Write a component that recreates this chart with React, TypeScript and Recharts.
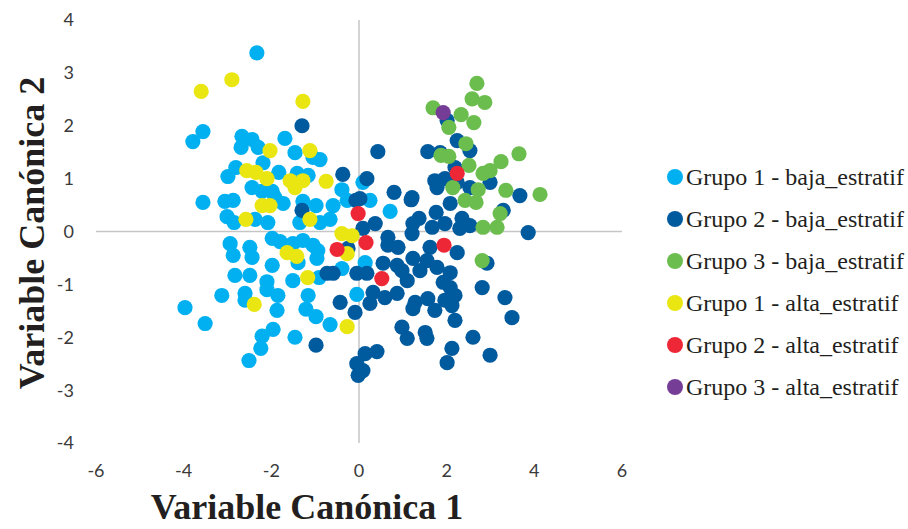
import {
  ScatterChart,
  Scatter,
  XAxis,
  YAxis,
  ReferenceLine,
  Legend,
  Label,
} from "recharts";

type Pt = [number, number];

const X_TICKS = [-6, -4, -2, 0, 2, 4, 6];
const Y_TICKS = [-4, -3, -2, -1, 0, 1, 2, 3, 4];

// Grupo 1 - baja_estratif
const G1_BAJA: Pt[] = [
  [-2.33, 3.38], [-3.56, 1.89], [-3.79, 1.7], [-2.67, 1.8], [-2.44, 1.74],
  [-2.69, 1.59], [-2.3, 1.59], [-1.69, 1.76], [-1.46, 1.49], [-1.05, 1.4],
  [-0.89, 1.36], [-2.19, 1.3], [-2.81, 1.21], [-2.99, 1.04], [-1.83, 1.12],
  [-1.41, 1.1], [-1.16, 1.06], [-2.44, 0.83], [-2.21, 0.76], [-1.98, 0.76],
  [-3.56, 0.55], [-3.06, 0.57], [-2.87, 0.59], [-1.73, 0.53], [-1.28, 0.57],
  [-0.98, 0.49], [-0.59, 0.49], [-0.39, 0.79], [-3.01, 0.28], [-2.85, 0.17],
  [-2.37, 0.23], [-2.08, 0.17], [-1.35, 0.17], [-0.89, 0.17], [-0.66, 0.23],
  [-0.27, 0.59], [0.09, 0.93], [0.25, 0.59], [0.71, 0.38], [-2.94, -0.23],
  [-2.49, -0.3], [-1.98, -0.13], [-1.8, -0.19], [-1.51, -0.23], [-1.28, -0.17],
  [-1.05, -0.26], [-0.94, -0.36], [-2.87, -0.45], [-2.44, -0.49], [-1.98, -0.64],
  [-1.39, -0.59], [-0.96, -0.51], [-2.83, -0.83], [-2.49, -0.83], [-2.1, -0.95],
  [-1.51, -0.93], [-0.91, -0.87], [-3.13, -1.21], [-2.6, -1.17], [-2.6, -1.3],
  [-2.1, -1.1], [-1.85, -1.21], [-1.16, -1.21], [-1.21, -1.47], [-1.87, -1.49],
  [-0.98, -1.61], [-0.66, -1.76], [-0.05, -1.19], [-0.39, -0.7], [0.14, -0.59],
  [-3.97, -1.44], [-3.51, -1.74], [-2.21, -1.98], [-1.96, -1.85], [-1.46, -2.0],
  [-2.24, -2.21], [-2.51, -2.44], [-1.92, 0.64],
];

// Grupo 2 - baja_estratif
const G2_BAJA: Pt[] = [
  [-1.3, 2.0], [-0.37, 1.08], [-0.07, 0.59], [-1.3, 0.4], [0.18, 1.0],
  [0.02, 0.62], [-0.59, -0.79], [-0.73, -0.79], [-0.05, -0.79], [-0.43, -1.34],
  [-0.09, -1.53], [-0.98, -2.15], [-0.05, -2.5], [-0.02, -2.72], [0.09, -2.63],
  [0.43, 1.51], [1.57, 1.51], [1.85, 1.49], [2.01, 2.1], [2.24, 1.72],
  [2.53, 1.53], [2.19, 1.21], [0.8, 0.74], [1.19, 0.6], [1.37, 0.25],
  [1.76, 0.36], [1.73, 0.96], [1.96, 1.0], [2.24, 0.93], [2.53, 0.83],
  [2.99, 0.93], [1.78, 0.83], [1.21, 0.64], [3.67, 0.68], [3.29, 0.4],
  [2.08, 0.53], [2.35, 0.25], [2.53, 0.11], [1.96, 0.15], [1.67, 0.08],
  [1.21, -0.04], [3.86, -0.02], [0.37, 0.15], [0.09, 0.06], [0.66, -0.11],
  [1.23, 0.15], [2.3, 0.06], [0.66, -0.26], [0.89, -0.3], [1.62, -0.3],
  [2.24, -0.4], [1.23, -0.51], [0.55, -0.6], [0.87, -0.64], [1.55, -0.55],
  [1.78, -0.68], [2.08, -0.78], [0.18, -0.79], [0.98, -0.74], [1.1, -0.93],
  [1.39, -0.74], [1.92, -0.96], [2.08, -1.06], [2.81, -1.06], [2.92, -0.6],
  [3.33, -1.25], [3.49, -1.63], [0.32, -1.15], [0.59, -1.25], [0.87, -1.17],
  [0.25, -1.36], [1.28, -1.34], [1.23, -1.46], [1.57, -1.27], [1.73, -1.49],
  [1.96, -1.3], [2.19, -1.21], [2.12, -1.4], [2.19, -1.68], [0.98, -1.81],
  [1.1, -2.02], [1.51, -1.91], [1.55, -2.02], [2.6, -2.0], [2.12, -2.21],
  [2.01, -2.48], [2.99, -2.34], [0.41, -2.27], [0.14, -2.31], [-0.25, -0.32],
];

// Grupo 3 - baja_estratif
const G3_BAJA: Pt[] = [
  [2.69, 2.8], [2.58, 2.51], [2.87, 2.44], [1.69, 2.34], [2.33, 2.21],
  [2.62, 2.06], [2.05, 1.97], [2.44, 1.66], [1.87, 1.44], [2.05, 1.42],
  [2.51, 1.25], [2.83, 1.1], [2.99, 1.15], [3.24, 1.32], [3.65, 1.47],
  [2.14, 0.83], [2.72, 0.79], [3.35, 0.78], [4.13, 0.7], [2.42, 0.59],
  [2.67, 0.55], [3.22, 0.34], [2.83, 0.08], [3.15, 0.08], [2.81, -0.55],
];

// Grupo 1 - alta_estratif
const G1_ALTA: Pt[] = [
  [-3.6, 2.65], [-2.9, 2.87], [-1.28, 2.46], [-2.03, 1.53], [-1.12, 1.53],
  [-2.56, 1.15], [-2.35, 1.12], [-2.1, 1.0], [-1.57, 0.96], [-1.46, 0.83],
  [-1.28, 0.96], [-0.75, 0.95], [-2.21, 0.49], [-2.03, 0.49], [-2.58, 0.23],
  [-1.12, 0.23], [-0.39, -0.04], [-0.16, -0.08], [-0.27, -0.42], [-1.64, -0.4],
  [-1.42, -0.47], [-1.17, -0.87], [-2.39, -1.38], [-0.27, -1.8],
];

// Grupo 2 - alta_estratif
const G2_ALTA: Pt[] = [
  [-0.02, 0.34], [2.24, 1.1], [-0.5, -0.34], [0.16, -0.21], [1.94, -0.26], [0.52, -0.89],
];

// Grupo 3 - alta_estratif
const G3_ALTA: Pt[] = [[1.92, 2.25]];

const SERIES = [
  { name: "Grupo 1 - baja_estratif", color: "#00b0f0", points: G1_BAJA },
  { name: "Grupo 2 - baja_estratif", color: "#005a9e", points: G2_BAJA },
  { name: "Grupo 3 - baja_estratif", color: "#6bbd4e", points: G3_BAJA },
  { name: "Grupo 1 - alta_estratif", color: "#e9e612", points: G1_ALTA },
  { name: "Grupo 2 - alta_estratif", color: "#ee2737", points: G2_ALTA },
  { name: "Grupo 3 - alta_estratif", color: "#763d97", points: G3_ALTA },
];

const toRows = (pts: Pt[]) => pts.map(([x, y]) => ({ x, y }));

const titleStyle = {
  fontFamily: "'Liberation Serif', 'DejaVu Serif', serif",
  fontSize: 36,
  fontWeight: 700,
  fill: "#231f20",
};

const XTitle = (props: any) => {
  const vb = props.viewBox ?? { x: 96, y: 443, width: 526, height: 86 };
  return (
    <text x={vb.x + vb.width / 2 - 52} y={519} textAnchor="middle" style={titleStyle}>
      Variable Canónica 1
    </text>
  );
};

const YTitle = () => (
  <text
    x={44}
    y={233}
    textAnchor="middle"
    transform="rotate(-90 44 233)"
    style={titleStyle}
  >
    Variable Canónica 2
  </text>
);

const renderLegend = () => (
  <div
    style={{
      fontFamily: "'Liberation Serif', serif",
      fontSize: 24,
      color: "#231f20",
    }}
  >
    {SERIES.map((s) => (
      <div key={s.name} style={{ display: "flex", alignItems: "center", height: 42 }}>
        <span
          style={{
            display: "inline-block",
            flex: "none",
            width: 16,
            height: 16,
            borderRadius: 8,
            background: s.color,
            marginRight: 3,
          }}
        />
        <span style={{ whiteSpace: "nowrap" }}>{s.name}</span>
      </div>
    ))}
  </div>
);

const dot = (color: string) => (props: any) =>
  <circle cx={props.cx} cy={props.cy} r={7.6} fill={color} />;

const tickStyle = { fontFamily: "Lato, 'Open Sans', sans-serif", fontSize: 18, fill: "#3a3a3a" };

export default function App() {
  return (
    <div style={{ position: "absolute", left: 0, top: 0, width: 908, height: 529, background: "#fff" }}>
      <ScatterChart width={908} height={529} margin={{ top: 20, right: 286, bottom: 0, left: 0 }}>
        <XAxis
          type="number"
          dataKey="x"
          domain={[-6, 6]}
          ticks={X_TICKS}
          interval={0}
          axisLine={false}
          tickLine={false}
          tickMargin={15}
          height={86}
          tick={tickStyle}
        >
          <Label content={XTitle} />
        </XAxis>
        <YAxis
          type="number"
          dataKey="y"
          domain={[-4, 4]}
          ticks={Y_TICKS}
          interval={0}
          axisLine={false}
          tickLine={false}
          tickMargin={16}
          width={96}
          tick={tickStyle}
        >
          <Label content={YTitle} />
        </YAxis>
        <ReferenceLine x={0} stroke="#c6c6c6" strokeWidth={1.5} />
        <ReferenceLine y={0} stroke="#c6c6c6" strokeWidth={1.5} />
        {SERIES.map((s) => (
          <Scatter
            key={s.name}
            name={s.name}
            data={toRows(s.points)}
            fill={s.color}
            shape={dot(s.color)}
            isAnimationActive={false}
          />
        ))}
        <Legend
          layout="vertical"
          align="center"
          verticalAlign="middle"
          wrapperStyle={{ left: 667, top: 156, width: 241 }}
          content={renderLegend}
        />
      </ScatterChart>
    </div>
  );
}
